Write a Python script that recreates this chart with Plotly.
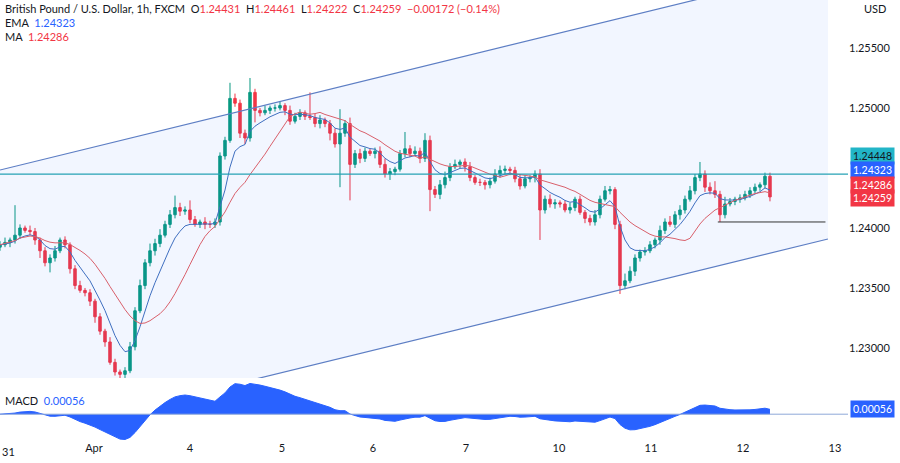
import plotly.graph_objects as go
import pandas as pd

closes = [1.2386,1.2388,1.2390,1.2394,1.2400,1.2398,1.2397,1.2390,1.2381,1.2371,
1.2375,1.2381,1.2390,1.2386,1.2366,1.2352,1.2348,1.2346,1.2339,1.2326,
1.2314,1.2305,1.2288,1.2280,1.2278,1.2281,1.2301,1.2331,1.2352,1.2371,
1.2381,1.2387,1.2394,1.2403,1.2411,1.2417,1.2414,1.2415,1.2407,1.2403,
1.2405,1.2403,1.2403,1.2405,1.2460,1.2473,1.2508,1.2504,1.2479,1.2475,
1.2513,1.2498,1.2496,1.2498,1.2500,1.2500,1.2502,1.2498,1.2489,1.2493,
1.2496,1.2493,1.2492,1.2487,1.2490,1.2487,1.2479,1.2470,1.2479,1.2487,
1.2453,1.2462,1.2458,1.2464,1.2462,1.2464,1.2453,1.2445,1.2447,1.2449,
1.2462,1.2466,1.2462,1.2464,1.2458,1.2473,1.2432,1.2428,1.2436,1.2442,
1.2451,1.2453,1.2455,1.2451,1.2442,1.2438,1.2438,1.2436,1.2439,1.2445,
1.2448,1.2449,1.2448,1.2441,1.2435,1.2441,1.2442,1.2445,1.2415,1.2424,
1.2420,1.2421,1.2420,1.2415,1.2417,1.2424,1.2413,1.2408,1.2405,1.2411,
1.2424,1.2431,1.2432,1.2403,1.2352,1.2356,1.2364,1.2375,1.2380,1.2381,
1.2386,1.2390,1.2398,1.2405,1.2403,1.2411,1.2415,1.2424,1.2431,1.2442,
1.2445,1.2434,1.2431,1.2428,1.2411,1.2420,1.2422,1.2424,1.2425,1.2428,
1.2431,1.2434,1.2436,1.24431,1.24259]
first_open = 1.2384
wick_up = [3,4,2,25,3,2,4,3,2,3, 3,4,2,3,2,3,4,2,3,2, 3,2,4,3,2,3,4,3,5,3,
6,4,5,3,4,10,4,3,8,3, 2,4,3,3,3,3,13,4,3,3, 12,3,2,4,2,3,3,2,4,3,
3,2,20,3,4,2,3,4,20,3, 5,3,4,3,2,3,4,5,3,2, 3,14,3,4,3,6,4,3,4,5,
3,4,2,3,4,2,3,2,3,4, 4,3,2,3,4,3,2,3,4,3, 4,3,2,3,4,2,3,2,3,4,
3,4,3,2,3,6,4,3,2,3, 3,2,4,3,5,3,4,3,4,3, 10,3,4,8,3,6,3,2,3,3, 3,3,2,3,3]
wick_dn = [3,2,4,3,3,2,3,4,6,3, 8,3,2,3,4,3,2,3,4,5, 3,4,2,3,4,3,2,3,2,3,
3,4,3,2,3,3,4,3,3,2, 3,4,3,3,3,3,2,3,4,5, 3,10,3,2,3,3,2,4,3,2,
3,3,2,3,4,3,6,3,36,3, 30,3,4,3,2,4,3,3,5,3, 2,3,3,2,4,3,18,3,4,3,
3,2,3,4,3,2,3,4,3,2, 3,3,4,3,3,2,3,4,25,3, 3,4,3,2,3,3,2,4,3,3,
3,2,3,4,7,3,2,4,3,3, 2,3,4,3,2,3,4,3,2,3, 3,4,3,3,6,3,2,3,3,2, 3,2,3,3,4]
day_labels = ["31","Apr","4","5","6","7","10","11","12","13"]
day_pos = [0.0, 0.989, 2.033, 3.033, 4.022, 5.033, 6.043, 7.043, 8.043, 9.043]
resistance = 1.24448
support_short = 1.2405
chan_upper = [(-0.0326, 1.24483), (7.52, 1.2590)]
chan_lower = [(2.793, 1.2275), (8.989, 1.23917)]
badges = [("1.24448", "#22b5c7", 1.24602), ("1.24323", "#2962ff", 1.24485),
          ("1.24286", "#f23645", 1.24360), ("1.24259", "#f23645", 1.24252)]

n = len(closes)
x = [-3/92 + i*5/92 for i in range(n)]
opens = [first_open] + closes[:-1]
highs = [max(o, c) + u*0.0001 for o, c, u in zip(opens, closes, wick_up)]
lows = [min(o, c) - d*0.0001 for o, c, d in zip(opens, closes, wick_dn)]
highs[-1] = 1.24461; lows[-1] = 1.24222
s = pd.Series(closes)
ema = s.ewm(span=7, adjust=False).mean()
ma = s.rolling(15, min_periods=1).mean()
macd = s.ewm(span=9, adjust=False).mean() - s.ewm(span=20, adjust=False).mean()

fig = go.Figure()
su = (chan_upper[1][1]-chan_upper[0][1])/(chan_upper[1][0]-chan_upper[0][0])
xr = 8.967
def up(xx): return chan_upper[0][1] + su*(xx-chan_upper[0][0])
def lo(xx): return chan_lower[0][1] + su*(xx-chan_lower[0][0])
x0 = -0.0326
fig.add_trace(go.Scatter(x=[x0, xr, xr, x0, x0], y=[up(x0), up(xr), lo(xr), lo(x0), up(x0)], mode="lines",
    fill="toself", fillcolor="rgba(41,98,255,0.06)", line=dict(width=0), hoverinfo="skip"))
fig.add_trace(go.Scatter(x=[x0, xr], y=[up(x0), up(xr)], mode="lines", line=dict(color="#5d7ec4", width=1.2)))
fig.add_trace(go.Scatter(x=[x0, xr], y=[lo(x0), lo(xr)], mode="lines", line=dict(color="#5d7ec4", width=1.2)))
fig.add_trace(go.Candlestick(x=x, open=opens, high=highs, low=lows, close=closes,
    increasing=dict(line=dict(color="#089981", width=1), fillcolor="#089981"),
    decreasing=dict(line=dict(color="#f23645", width=1), fillcolor="#f23645"), whiskerwidth=0))
fig.add_trace(go.Scatter(x=x, y=ema, mode="lines", line=dict(color="#3f6fc0", width=1)))
fig.add_trace(go.Scatter(x=x, y=ma, mode="lines", line=dict(color="#d9606b", width=1)))
fig.add_trace(go.Scatter(x=[x0, 9.3], y=[resistance]*2, mode="lines", line=dict(color="#26a2b5", width=1.3)))
fig.add_trace(go.Scatter(x=[7.77, 8.94], y=[support_short]*2, mode="lines", line=dict(color="#333", width=1)))
fig.add_trace(go.Scatter(x=x, y=macd, mode="lines", fill="tozeroy", fillcolor="#2962ff",
    line=dict(color="#2962ff", width=1), yaxis="y2"))
fig.add_trace(go.Scatter(x=[x0, 9.3], y=[0, 0], mode="lines", line=dict(color="#8fa8d8", width=1), yaxis="y2"))

mx, mn = float(macd.max()), float(macd.min())
fig.update_layout(
    width=900, height=463, margin=dict(l=0, r=52, t=0, b=23, autoexpand=False),
    paper_bgcolor="white", plot_bgcolor="white", showlegend=False,
    font=dict(family="Lato", size=11, color="#131722"),
    xaxis=dict(range=[-0.0326, 9.185], tickvals=day_pos[1:], ticktext=day_labels[1:],
               showgrid=False, zeroline=False, rangeslider=dict(visible=False), ticks="", anchor="y2"),
    yaxis=dict(domain=[0.141, 1], range=[1.2275, 1.2590], side="right",
               tickvals=[1.23, 1.235, 1.24, 1.255, 1.25], tickformat=".5f",
               showgrid=False, zeroline=False),
    yaxis2=dict(domain=[0, 0.132], range=[mn*1.02, mx*1.05], side="right", showticklabels=False,
                showgrid=False, zeroline=False),
)
ann = [
    dict(x=0.003, y=1.0, xref="paper", yref="paper", xanchor="left", yanchor="top", showarrow=False, align="left",
         text="British Pound / U.S. Dollar, 1h, FXCM  O<span style='color:#f23645'>1.24431</span>  H<span style='color:#f23645'>1.24461</span>  L<span style='color:#f23645'>1.24222</span>  C<span style='color:#f23645'>1.24259</span>  <span style='color:#f23645'>−0.00172 (−0.14%)</span>"),
    dict(x=0.003, y=0.968, xref="paper", yref="paper", xanchor="left", yanchor="top", showarrow=False,
         text="EMA  <span style='color:#2962ff'>1.24323</span>"),
    dict(x=0.003, y=0.937, xref="paper", yref="paper", xanchor="left", yanchor="top", showarrow=False,
         text="MA  <span style='color:#f23645'>1.24286</span>"),
    dict(x=0.003, y=0.11, xref="paper", yref="paper", xanchor="left", yanchor="top", showarrow=False,
         text="MACD  <span style='color:#2962ff'>0.00056</span>"),
    dict(x=0.0, y=0, xref="paper", yref="paper", xanchor="left", yanchor="top", showarrow=False,
         yshift=-3, text=day_labels[0]),
    dict(x=1.0, y=1.0, xref="paper", yref="paper", xanchor="left", yanchor="top", showarrow=False,
         xshift=14, text="USD"),
    dict(x=1.0, y=0.00056, xref="paper", yref="y2", xanchor="left", showarrow=False, xshift=2,
         text="0.00056", bgcolor="#2962ff", font=dict(color="white", size=10.5), borderpad=2),
]
for t, col, yv in badges:
    ann.append(dict(x=1.0, y=yv, xref="paper", yref="y", xanchor="left", showarrow=False, xshift=2,
                    text=t, bgcolor=col, font=dict(size=10.5, color="white" if col != "#22b5c7" else "#131722"),
                    borderpad=2))
fig.update_layout(annotations=ann)
fig.write_html("out.html", post_script="document.body.style.margin='0';",
               config={"displayModeBar": False})
